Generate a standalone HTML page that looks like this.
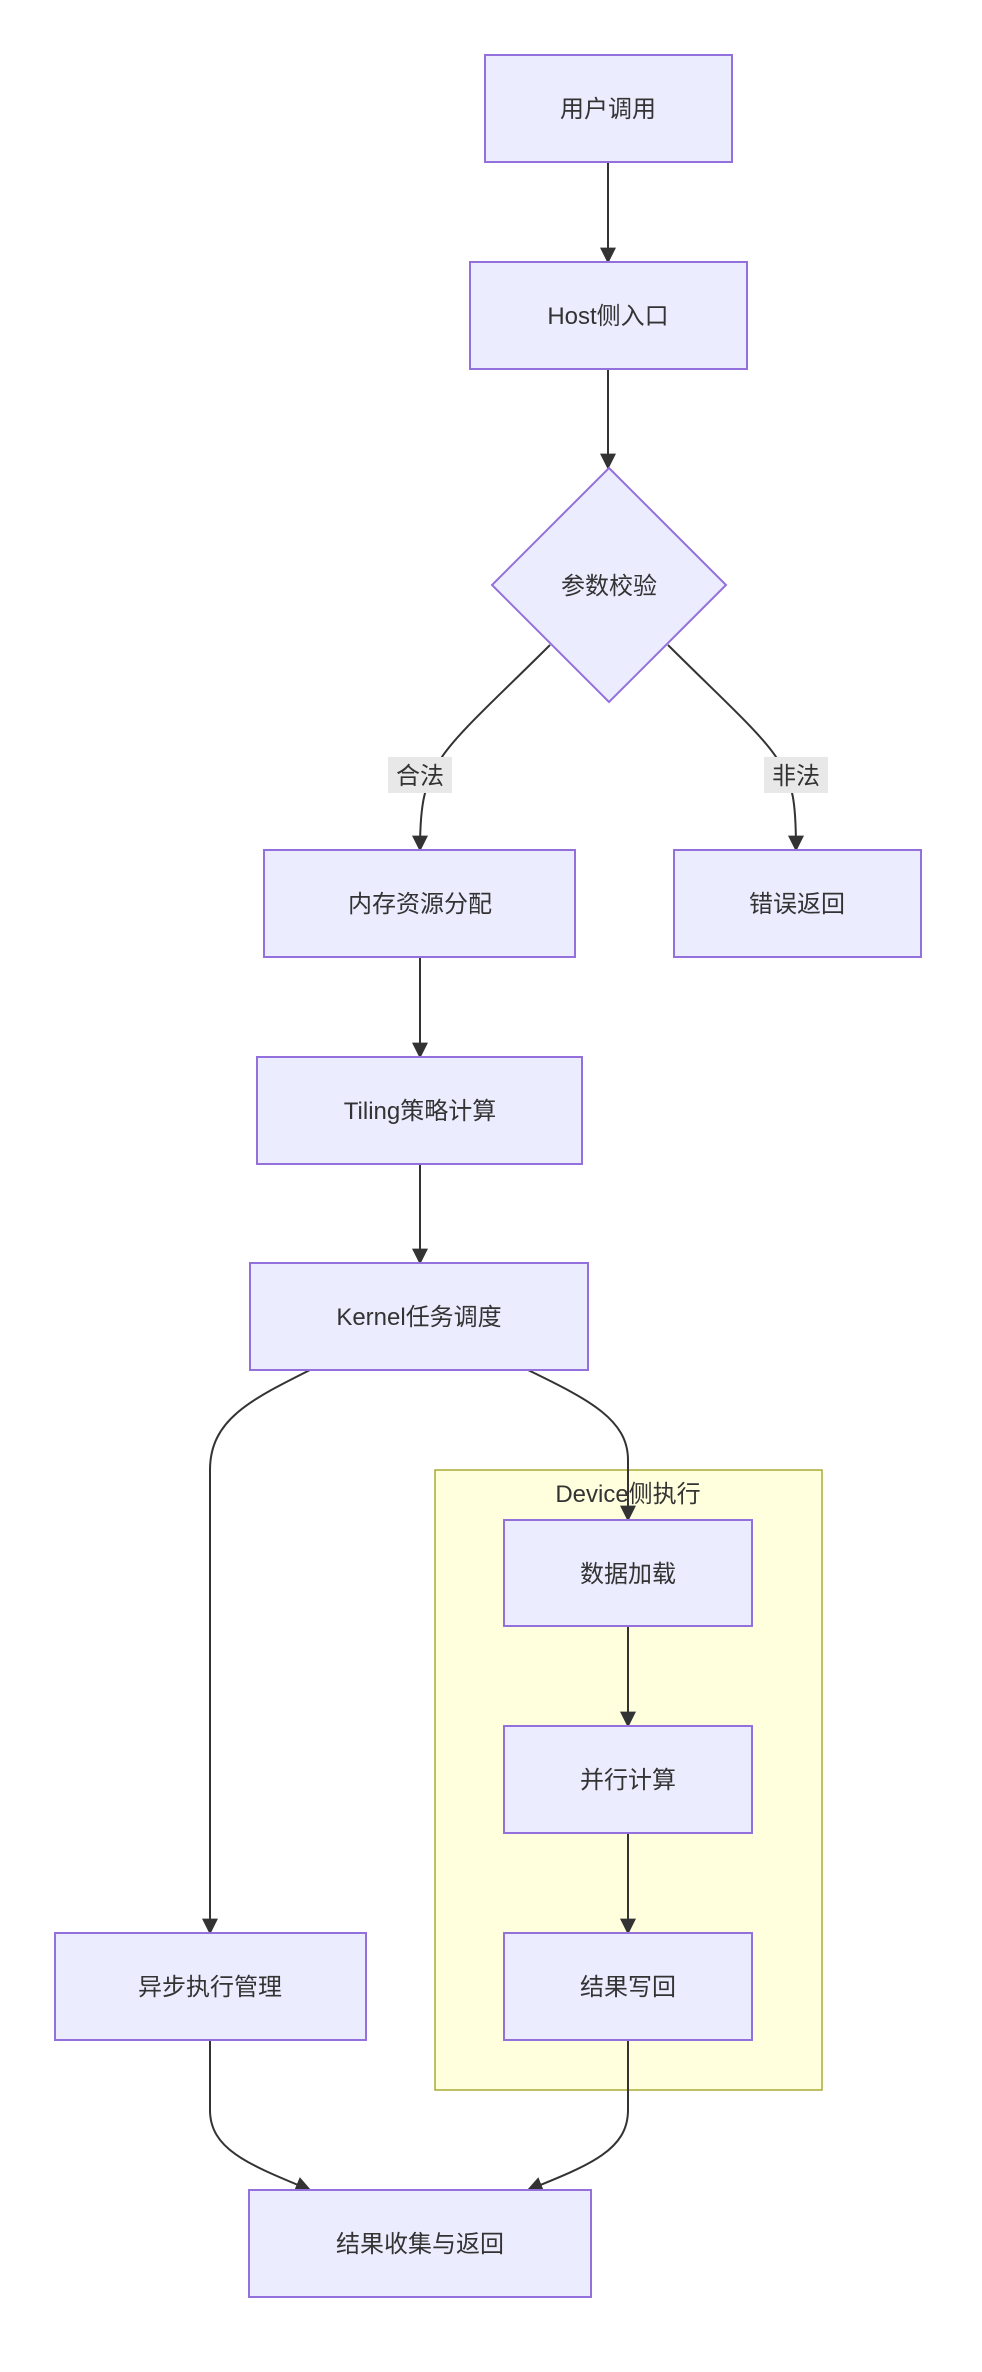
<!DOCTYPE html>
<html><head><meta charset="utf-8"><style>
html,body{margin:0;padding:0;background:#fff;}
svg text{font-family:"Liberation Sans","Noto Sans CJK SC",sans-serif;font-size:24px;fill:#333;}
</style></head><body>
<svg width="982" height="2367" viewBox="0 0 982 2367" xmlns="http://www.w3.org/2000/svg">
<defs><marker id="a" viewBox="0 0 10 10" refX="9" refY="5" markerWidth="8" markerHeight="8" orient="auto"><path d="M0,0 L10,5 L0,10 z" fill="#333"/></marker></defs>
<rect x="435" y="1470" width="387" height="620" fill="#ffffde" stroke="#aaaa33" stroke-width="1.5"/>
<text x="628" y="1502" text-anchor="middle">Device侧执行</text>
<g fill="none" stroke="#333" stroke-width="2" marker-end="url(#a)">
<path d="M608,162 L608,262"/>
<path d="M608,369 L608,468"/>
<path d="M550,645 C500,695 455,735 440,760 C425,785 420,800 420,850"/>
<path d="M668,645 C718,695 763,735 778,760 C793,785 796,800 796,850"/>
<path d="M420,957 L420,1057"/>
<path d="M420,1164 L420,1263"/>
<path d="M310,1370 C250,1400 210,1420 210,1470 L210,1933"/>
<path d="M528,1370 C590,1400 628,1420 628,1460 L628,1520"/>
<path d="M628,1626 L628,1726"/>
<path d="M628,1833 L628,1933"/>
<path d="M210,2040 L210,2110 C210,2150 250,2165 310,2190"/>
<path d="M628,2040 L628,2110 C628,2150 590,2165 528,2190"/>
</g>
<rect x="388" y="757" width="64" height="36" fill="#e8e8e8"/>
<text x="420" y="784" text-anchor="middle">合法</text>
<rect x="764" y="757" width="64" height="36" fill="#e8e8e8"/>
<text x="796" y="784" text-anchor="middle">非法</text>
<g fill="#ececff" stroke="#9370db" stroke-width="2">
<rect x="485" y="55" width="247" height="107"/>
<rect x="470" y="262" width="277" height="107"/>
<polygon points="609,468 726,585 609,702 492,585"/>
<rect x="264" y="850" width="311" height="107"/>
<rect x="674" y="850" width="247" height="107"/>
<rect x="257" y="1057" width="325" height="107"/>
<rect x="250" y="1263" width="338" height="107"/>
<rect x="504" y="1520" width="248" height="106"/>
<rect x="504" y="1726" width="248" height="107"/>
<rect x="504" y="1933" width="248" height="107"/>
<rect x="55" y="1933" width="311" height="107"/>
<rect x="249" y="2190" width="342" height="107"/>
</g>
<g text-anchor="middle">
<text x="608" y="117">用户调用</text>
<text x="608" y="324">Host侧入口</text>
<text x="609" y="594">参数校验</text>
<text x="420" y="912">内存资源分配</text>
<text x="797" y="912">错误返回</text>
<text x="420" y="1119">Tiling策略计算</text>
<text x="419" y="1325">Kernel任务调度</text>
<text x="628" y="1582">数据加载</text>
<text x="628" y="1788">并行计算</text>
<text x="628" y="1995">结果写回</text>
<text x="210" y="1995">异步执行管理</text>
<text x="420" y="2252">结果收集与返回</text>
</g>
</svg>
</body></html>
